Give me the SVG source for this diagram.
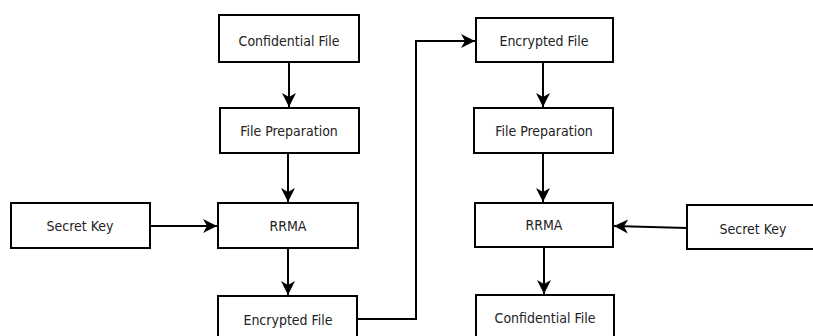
<svg xmlns="http://www.w3.org/2000/svg" width="813" height="336" viewBox="0 0 813 336">
<style>
.box{fill:#fff;stroke:#000;stroke-width:2}
.lbl{font-family:"DejaVu Sans Condensed","DejaVu Sans",Verdana,sans-serif;font-size:14px;fill:#222;text-anchor:middle}
.edge{fill:none;stroke:#000;stroke-width:2}
</style>
<defs>
<marker id="ah" markerUnits="userSpaceOnUse" markerWidth="16" markerHeight="16" refX="15" refY="8" orient="auto">
<path d="M1,1 L15,8 L1,15 L5,8 z" fill="#000"/>
</marker>
</defs>
<rect width="813" height="336" fill="#fff"/>
<g id="connectors">
<path class="edge" d="M289,62 V107" marker-end="url(#ah)"/>
<path class="edge" d="M288,153 V202" marker-end="url(#ah)"/>
<path class="edge" d="M150,226 H217" marker-end="url(#ah)"/>
<path class="edge" d="M288,248 V295" marker-end="url(#ah)"/>
<path class="edge" d="M357,319 H416 V41 H475" marker-end="url(#ah)"/>
<path class="edge" d="M543,62 V107" marker-end="url(#ah)"/>
<path class="edge" d="M543,153 V202" marker-end="url(#ah)"/>
<path class="edge" d="M687,228 L614,226" marker-end="url(#ah)"/>
<path class="edge" d="M544,247 V294" marker-end="url(#ah)"/>
</g>
<g id="cf1"><rect class="box" x="219" y="15" width="140" height="47"/><text class="lbl" x="289" y="45.5">Confidential File</text></g>
<g id="fp1"><rect class="box" x="220" y="108" width="139" height="45"/><text class="lbl" x="289" y="135.5">File Preparation</text></g>
<g id="rrma1"><rect class="box" x="218" y="203" width="140" height="45"/><text class="lbl" x="288" y="230.5">RRMA</text></g>
<g id="ef1"><rect class="box" x="218" y="296" width="139" height="50"/><text class="lbl" x="288" y="324.5">Encrypted File</text></g>
<g id="sk1"><rect class="box" x="11" y="203" width="139" height="45"/><text class="lbl" x="80" y="230.5">Secret Key</text></g>
<g id="ef2"><rect class="box" x="476" y="18" width="137" height="44"/><text class="lbl" x="544" y="46">Encrypted File</text></g>
<g id="fp2"><rect class="box" x="474" y="108" width="139" height="45"/><text class="lbl" x="544" y="135.5">File Preparation</text></g>
<g id="rrma2"><rect class="box" x="475" y="203" width="138" height="44"/><text class="lbl" x="544" y="230">RRMA</text></g>
<g id="cf2"><rect class="box" x="476" y="295" width="138" height="50"/><text class="lbl" x="545" y="322.5">Confidential File</text></g>
<g id="sk2"><rect class="box" x="687" y="205" width="130" height="44"/><text class="lbl" x="753" y="233.5">Secret Key</text></g>
</svg>
